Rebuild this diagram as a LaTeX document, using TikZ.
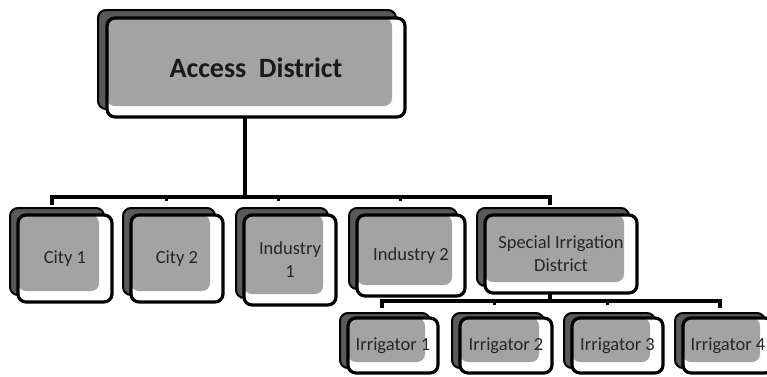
\documentclass[tikz,border=0pt]{standalone}
\usepackage{fontspec}
\setmainfont{Carlito}
\usetikzlibrary{shadows}
\begin{document}
\begin{tikzpicture}[x=1pt,y=-1pt,
  box/.style={draw=black, line width=3.2pt, rounded corners=8pt, fill=white,
    align=center, inner sep=0pt, text=black!85,
    font=\fontsize{18.5}{23}\selectfont,
    path picture={\fill[black!36] (path picture bounding box.north west) rectangle ([xshift=-13pt,yshift=11pt]path picture bounding box.south east);}},
  shadowA/.style={drop shadow={shadow xshift=-9pt, shadow yshift=8pt, opacity=1, fill=black!65, draw=black, line width=2pt}},
  shadowB/.style={drop shadow={shadow xshift=-8pt, shadow yshift=7pt, opacity=1, fill=black!65, draw=black, line width=2pt}},
  shadowC/.style={drop shadow={shadow xshift=-8pt, shadow yshift=5pt, opacity=1, fill=black!65, draw=black, line width=2pt}},
  conn/.style={line width=3.8pt, line cap=rect},
  tick/.style={line width=3pt}
]
\useasboundingbox (0,0) rectangle (767,376);

% top
\node[box, shadowA, minimum width=298pt, minimum height=99pt,
  font=\fontsize{28}{32}\selectfont\bfseries, text=black!90] (ad) at (256,67.5) {Access\hspace{0.45em}District};

% second row
\node[box, shadowB, minimum width=94pt, minimum height=87pt] (c1) at (65,258.5) {City 1};
\node[box, shadowB, minimum width=92pt, minimum height=87pt] (c2) at (177,258.5) {City 2};
\node[box, shadowB, minimum width=92pt, minimum height=90pt] (n1) at (290,260) {Industry\\1};
\node[box, shadowB, minimum width=108pt, minimum height=81pt] (n2) at (411,255.5) {Industry 2};
\node[box, shadowB, minimum width=152pt, minimum height=78pt] (sid) at (561,254) {Special Irrigation\\District};

% third row
\node[box, shadowC, minimum width=90pt, minimum height=55pt] (r1) at (393,345.5) {Irrigator 1};
\node[box, shadowC, minimum width=92pt, minimum height=55pt] (r2) at (506,345.5) {Irrigator 2};
\node[box, shadowC, minimum width=91pt, minimum height=55pt] (r3) at (617.5,345.5) {Irrigator 3};
\node[box, shadowC, minimum width=90pt, minimum height=55pt] (r4) at (728,345.5) {Irrigator 4};

% connectors level 1
\coordinate (b1) at (245,197);
\coordinate (t1) at (52,203);
\coordinate (t2) at (166,201);
\coordinate (t3) at (278,201);
\coordinate (t4) at (400,201);
\coordinate (t5) at (550,203);
\draw[conn] ([xshift=-11pt]ad.south) -- (b1);
\draw[conn] (t1) |- (b1) -| (t5);
\draw[tick] (t2 |- b1) -- (t2);
\draw[tick] (t3 |- b1) -- (t3);
\draw[tick] (t4 |- b1) -- (t4);

% connectors level 2
\coordinate (b2) at (550,301);
\coordinate (u1) at (382,306);
\coordinate (u2) at (494,305);
\coordinate (u3) at (607,305);
\coordinate (u4) at (720,306);
\draw[conn] ([xshift=-11pt]sid.south) -- (b2);
\draw[conn] (u1) |- (b2) -| (u4);
\draw[tick] (u2 |- b2) -- (u2);
\draw[tick] (u3 |- b2) -- (u3);
\end{tikzpicture}
\end{document}
